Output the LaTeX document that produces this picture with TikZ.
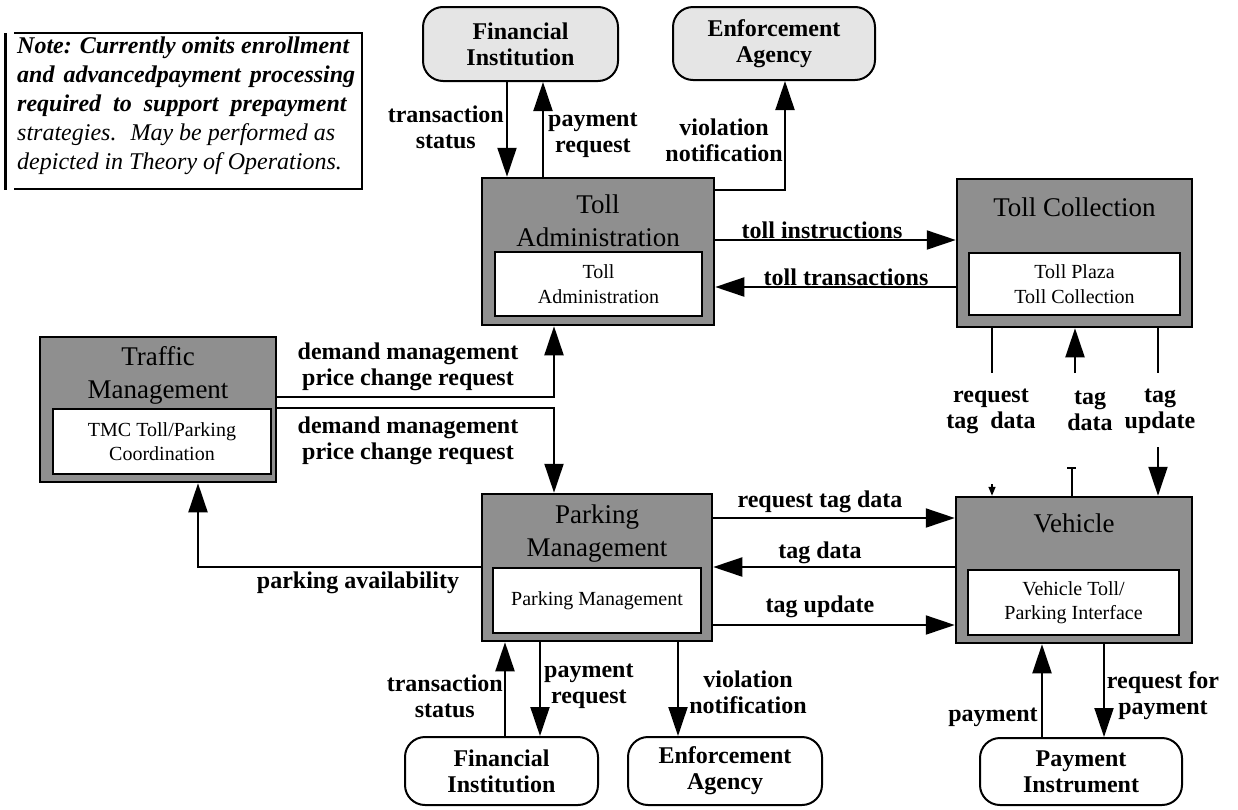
\documentclass[tikz,border=0pt]{standalone}
\usepackage{fontspec}
\setmainfont{Liberation Serif}
\usetikzlibrary{arrows.meta}

\definecolor{sysgray}{gray}{0.56}
\definecolor{extgray}{gray}{0.9}

\newcommand{\titlefont}{\fontsize{27}{33}\selectfont}
\newcommand{\subfont}{\fontsize{20}{24.5}\selectfont}
\newcommand{\lblfont}{\fontsize{24}{26}\selectfont\bfseries}
\newcommand{\notefont}{\fontsize{24}{29}\selectfont\itshape}

\begin{document}
\begin{tikzpicture}[x=1pt,y=-1pt,
  sysbox/.style={draw, line width=2.5pt, fill=sysgray, inner sep=0pt},
  subbox/.style={draw, line width=2pt, fill=white, inner sep=0pt, font=\subfont, align=center},
  systitle/.style={font=\titlefont, align=center, inner sep=0pt},
  termbox/.style={draw, line width=2pt, rounded corners=20pt, inner sep=0pt, font=\lblfont, align=center},
  flow/.style={line width=2pt, -{Triangle[length=29pt,width=19pt]}},
  wire/.style={line width=2pt},
  lbl/.style={font=\lblfont, align=center, inner sep=0pt},
]
\useasboundingbox (0,0) rectangle (1238,809);

% ---------- note ----------
\draw[line width=3pt] (5,33) -- (5,190);
\draw[line width=2pt] (14,33) -- (362,33) -- (362,189) -- (14,189);
\node[anchor=west, inner sep=0pt, align=left, font=\notefont] (note) at (17,106)
  {{\bfseries Note: Currently omits enrollment}\\
   {\bfseries\makebox[338pt][s]{and advancedpayment processing}}\\
   {\bfseries required \ to \ support \ prepayment}\\
   strategies. \ May be performed as\\
   depicted in Theory of Operations.};

% ---------- external terminators ----------
\node[termbox, fill=extgray, minimum width=195pt, minimum height=74pt] (fi1) at (520.5,44) {Financial\\Institution};
\node[termbox, fill=extgray, minimum width=202pt, minimum height=73pt] (ea1) at (774,43.5) {Enforcement\\Agency};
\node[termbox, fill=white, minimum width=193pt, minimum height=68pt] (fi2) at (501.5,771) {Financial\\Institution};
\node[termbox, fill=white, minimum width=194pt, minimum height=68pt] (ea2) at (725,771) {Enforcement\\Agency};
\node[termbox, fill=white, minimum width=202pt, minimum height=67pt] (pi) at (1081,771.5) {Payment\\Instrument};

% ---------- subsystems ----------
\node[sysbox, minimum width=232pt, minimum height=147pt] (ta) at (598,251.5) {};
\node[systitle] (ta-t) at (598,220.5) {Toll\\Administration};
\node[subbox, minimum width=207pt, minimum height=64pt] (ta-in) at (598.5,284) {Toll\\Administration};

\node[sysbox, minimum width=235pt, minimum height=148pt] (tc) at (1074.5,253) {};
\node[systitle] (tc-t) at (1074.5,207) {Toll Collection};
\node[subbox, minimum width=211pt, minimum height=62pt] (tc-in) at (1074.5,284) {Toll Plaza\\Toll Collection};

\node[sysbox, minimum width=236pt, minimum height=145pt] (tm) at (158,409.5) {};
\node[systitle] (tm-t) at (158,375.5) {Traffic\\Management};
\node[subbox, minimum width=218pt, minimum height=65pt] (tm-in) at (162,441.5) {TMC Toll/Parking\\Coordination};

\node[sysbox, minimum width=230pt, minimum height=147pt] (pm) at (597,567.5) {};
\node[systitle] (pm-t) at (597,534) {Parking\\Management};
\node[subbox, minimum width=208pt, minimum height=65pt] (pm-in) at (597,600.5) {Parking Management};

\node[sysbox, minimum width=236pt, minimum height=146pt] (veh) at (1074,570) {};
\node[systitle] (veh-t) at (1074,523) {Vehicle};
\node[subbox, minimum width=211pt, minimum height=65pt] (veh-in) at (1073.5,602.5) {Vehicle Toll/\\Parking Interface};

% ---------- lanes ----------
\coordinate (xTS1) at (507,0);  \coordinate (xPR1) at (543,0);  \coordinate (xVN1) at (785,0);
\coordinate (yVN1) at (0,190);  \coordinate (yTI) at (0,240);   \coordinate (yTT) at (0,287);
\coordinate (yDM1) at (0,397);  \coordinate (yDM2) at (0,408);  \coordinate (xDM) at (554,0);
\coordinate (yPA) at (0,567);   \coordinate (xPA) at (198,0);
\coordinate (yRT) at (0,518);   \coordinate (yTD) at (0,567);   \coordinate (yTU) at (0,625);
\coordinate (xRT) at (992,0);   \coordinate (xTG) at (1075,0);  \coordinate (xTU) at (1158,0);
\coordinate (yCut) at (0,373);  \coordinate (yResume) at (0,447);
\coordinate (xTS2) at (505,0);  \coordinate (xPR2) at (540,0);  \coordinate (xVN2) at (678,0);
\coordinate (xPY) at (1042,0);  \coordinate (xRP) at (1104,0);
\coordinate (stubA) at (992,484);
\coordinate (stubB) at (1072,468);

% ---------- flows ----------
\draw[flow] (fi1.south -| xTS1) -- (ta.north -| xTS1);
\draw[flow] (ta.north -| xPR1) -- (fi1.south -| xPR1);
\draw[flow] (ta.east |- yVN1) -| (ea1.south -| xVN1);
\draw[flow] (ta.east |- yTI) -- (tc.west |- yTI);
\draw[flow] (tc.west |- yTT) -- (ta.east |- yTT);
\draw[flow] (tm.east |- yDM1) -| (ta.south -| xDM);
\draw[flow] (tm.east |- yDM2) -| (pm.north -| xDM);
\draw[flow] (pm.west |- yPA) -| (tm.south -| xPA);
\draw[flow] (pm.east |- yRT) -- (veh.west |- yRT);
\draw[flow] (veh.west |- yTD) -- (pm.east |- yTD);
\draw[flow] (pm.east |- yTU) -- (veh.west |- yTU);
\draw[wire] (tc.south -| xRT) -- (xRT |- yCut);
\draw[flow] (xTG |- yCut) -- (tc.south -| xTG);
\draw[wire] (tc.south -| xTU) -- (xTU |- yCut);
\draw[flow] (xTU |- yResume) -- (veh.north -| xTU);
\draw[line width=1.5pt, -{Triangle[length=9pt,width=7pt]}] (stubA) -- (veh.north -| stubA);
\draw[wire] (stubB) -- (veh.north -| stubB);
\draw[line width=2pt] ([xshift=-5pt]stubB) -- ([xshift=4pt]stubB);
\draw[flow] (fi2.north -| xTS2) -- (pm.south -| xTS2);
\draw[flow] (pm.south -| xPR2) -- (fi2.north -| xPR2);
\draw[flow] (pm.south -| xVN2) -- (ea2.north -| xVN2);
\draw[flow] (pi.north -| xPY) -- (veh.south -| xPY);
\draw[flow] (veh.south -| xRP) -- (pi.north -| xRP);

% ---------- flow labels ----------
\node[lbl, anchor=east] (l-ts1) at (504,127) {transaction\\status};
\node[lbl, anchor=west] (l-pr1) at (548,135) {payment\\request};
\node[lbl, anchor=east] (l-vn1) at (783,140) {violation\\notification};
\node[lbl, anchor=base] (l-ti) at (822,238) {toll instructions};
\node[lbl, anchor=base] (l-tt) at (846,285) {toll transactions};
\node[lbl] (l-dm1) at (408,367) {demand management\\price change request};
\node[lbl] (l-dm2) at (408,441) {demand management\\price change request};
\node[lbl] (l-pa) at (358,583) {parking availability};
\node[lbl] (l-rt) at (820,502) {request tag data};
\node[lbl] (l-td) at (820,553) {tag data};
\node[lbl] (l-tu) at (820,607) {tag update};
\node[lbl] (l-rtd) at (991,411) {request\\tag \ data};
\node[lbl] (l-tgd) at (1090,411) {tag\\data};
\node[lbl] (l-tgu) at (1160,411) {tag\\update};
\node[lbl, anchor=east] (l-ts2) at (503,696) {transaction\\status};
\node[lbl, anchor=west] (l-pr2) at (544,686) {payment\\request};
\node[lbl] (l-vn2) at (748,692) {violation\\notification};
\node[lbl] (l-pay) at (993,717) {payment};
\node[lbl] (l-rfp) at (1163,696) {request for\\payment};
\end{tikzpicture}
\end{document}
